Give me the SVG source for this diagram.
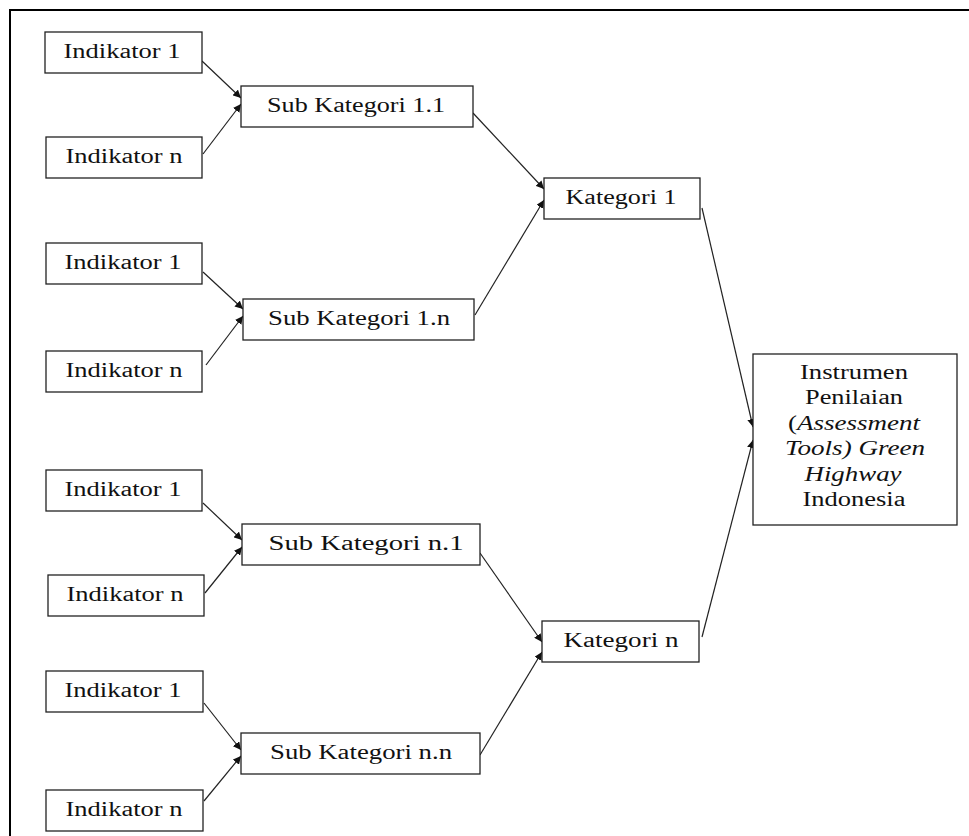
<svg xmlns="http://www.w3.org/2000/svg" width="969" height="836" viewBox="0 0 969 836">
<style>
.box{fill:#fff;stroke:#222;stroke-width:1.3}
.t{font-family:"Liberation Serif","Times New Roman",serif;font-size:20px;fill:#111;text-anchor:middle}
.i{font-style:italic}
.c{stroke:#222;stroke-width:1.2;fill:none;marker-end:url(#ah)}
.frame{stroke:#000;stroke-width:2;fill:none}
</style>
<defs>
<marker id="ah" markerUnits="userSpaceOnUse" markerWidth="9" markerHeight="8" refX="8" refY="4" orient="auto">
<path d="M0,0 L8,4 L0,8 Z" fill="#111"/>
</marker>
</defs>
<rect width="969" height="836" fill="#fff"/>
<path class="frame" d="M10,836 V10 H969"/>

<g id="connectors">
<line class="c" x1="202" y1="61" x2="241" y2="98"/>
<line class="c" x1="203" y1="154" x2="241" y2="104"/>
<line class="c" x1="203" y1="272" x2="243" y2="309"/>
<line class="c" x1="206" y1="365" x2="243" y2="316"/>
<line class="c" x1="203" y1="503" x2="242" y2="540"/>
<line class="c" x1="205" y1="593" x2="242" y2="547"/>
<line class="c" x1="204" y1="703" x2="241" y2="750"/>
<line class="c" x1="204" y1="801" x2="241" y2="756"/>
<line class="c" x1="473" y1="113" x2="544" y2="189"/>
<line class="c" x1="475" y1="315" x2="544" y2="200"/>
<line class="c" x1="480" y1="553" x2="542" y2="642"/>
<line class="c" x1="480" y1="755" x2="542" y2="652"/>
<line class="c" x1="702" y1="208" x2="753" y2="427"/>
<line class="c" x1="702" y1="637" x2="753" y2="440"/>
</g>

<g id="g1-ind1"><rect class="box" x="45" y="32" width="157" height="41"/><text class="t" x="122" y="58" textLength="117" lengthAdjust="spacingAndGlyphs">Indikator 1</text></g>
<g id="g1-indn"><rect class="box" x="46" y="137" width="156" height="41"/><text class="t" x="124" y="163" textLength="117" lengthAdjust="spacingAndGlyphs">Indikator n</text></g>
<g id="sub11"><rect class="box" x="241" y="86" width="232" height="41"/><text class="t" x="356" y="112" textLength="178" lengthAdjust="spacingAndGlyphs">Sub Kategori 1.1</text></g>

<g id="g2-ind1"><rect class="box" x="46" y="243" width="156" height="41"/><text class="t" x="123" y="269" textLength="117" lengthAdjust="spacingAndGlyphs">Indikator 1</text></g>
<g id="g2-indn"><rect class="box" x="46" y="351" width="156" height="41"/><text class="t" x="124" y="377" textLength="117" lengthAdjust="spacingAndGlyphs">Indikator n</text></g>
<g id="sub1n"><rect class="box" x="243" y="299" width="231" height="41"/><text class="t" x="359" y="325" textLength="182" lengthAdjust="spacingAndGlyphs">Sub Kategori 1.n</text></g>

<g id="g3-ind1"><rect class="box" x="46" y="470" width="156" height="41"/><text class="t" x="123" y="496" textLength="117" lengthAdjust="spacingAndGlyphs">Indikator 1</text></g>
<g id="g3-indn"><rect class="box" x="48" y="575" width="156" height="41"/><text class="t" x="125" y="601" textLength="117" lengthAdjust="spacingAndGlyphs">Indikator n</text></g>
<g id="subn1"><rect class="box" x="242" y="524" width="238" height="41"/><text class="t" x="366" y="550" textLength="195" lengthAdjust="spacingAndGlyphs">Sub Kategori n.1</text></g>

<g id="g4-ind1"><rect class="box" x="46" y="671" width="157" height="41"/><text class="t" x="123" y="697" textLength="117" lengthAdjust="spacingAndGlyphs">Indikator 1</text></g>
<g id="g4-indn"><rect class="box" x="46" y="790" width="157" height="41"/><text class="t" x="124" y="816" textLength="117" lengthAdjust="spacingAndGlyphs">Indikator n</text></g>
<g id="subnn"><rect class="box" x="241" y="733" width="239" height="41"/><text class="t" x="361" y="759" textLength="182" lengthAdjust="spacingAndGlyphs">Sub Kategori n.n</text></g>

<g id="kat1"><rect class="box" x="544" y="178" width="156" height="41"/><text class="t" x="621" y="204" textLength="111" lengthAdjust="spacingAndGlyphs">Kategori 1</text></g>
<g id="katn"><rect class="box" x="542" y="621" width="157" height="41"/><text class="t" x="621" y="647" textLength="115" lengthAdjust="spacingAndGlyphs">Kategori n</text></g>

<g id="instrumen"><rect class="box" x="753" y="354" width="204" height="171"/>
<text class="t" x="854" y="379" textLength="108" lengthAdjust="spacingAndGlyphs">Instrumen</text>
<text class="t" x="854" y="404" textLength="98" lengthAdjust="spacingAndGlyphs">Penilaian</text>
<text class="t" x="854" y="430" textLength="132" lengthAdjust="spacingAndGlyphs">(<tspan class="i">Assessment</tspan></text>
<text class="t i" x="855" y="455" textLength="140" lengthAdjust="spacingAndGlyphs">Tools) Green</text>
<text class="t i" x="853" y="481" textLength="97" lengthAdjust="spacingAndGlyphs">Highway</text>
<text class="t" x="854" y="506" textLength="103" lengthAdjust="spacingAndGlyphs">Indonesia</text>
</g>
</svg>
